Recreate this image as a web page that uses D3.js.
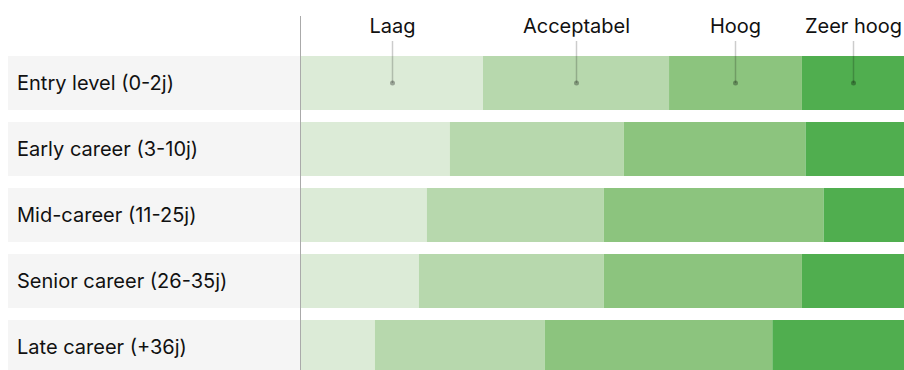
<!DOCTYPE html>
<html>
<head>
<meta charset="utf-8">
<script src="https://cdn.jsdelivr.net/npm/d3@7"></script>
<style>
  body { margin: 0; background: #fff; }
  svg { display: block; font-family: Inter, "Noto Sans", sans-serif; }
</style>
</head>
<body>
<div id="chart"></div>
<script>
// Data
const categories = [
  "Entry level (0-2j)",
  "Early career (3-10j)",
  "Mid-career (11-25j)",
  "Senior career (26-35j)",
  "Late career (+36j)",
];
const levels = ["Laag", "Acceptabel", "Hoog", "Zeer hoog"];
const laag = [30.3, 24.8, 21.0, 19.7, 12.4];
const acceptabel = [30.8, 28.8, 29.3, 30.6, 28.1];
const hoog = [22.0, 30.1, 36.4, 32.8, 37.7];
const zeerHoog = [16.9, 16.3, 13.3, 16.9, 21.8];

const colors = ["#dcebd7", "#b7d8ad", "#8cc47e", "#50ae4f"];

function draw() {
  const dimensions = {
    width: 904,
    height: 370,
    labelLeft: 8,
    plotLeft: 300,
    plotRight: 904,
    top: 56,
    step: 66,
    gap: 12,
  };

  const rows = categories.map((c, i) => ({
    category: c,
    Laag: laag[i],
    Acceptabel: acceptabel[i],
    Hoog: hoog[i],
    "Zeer hoog": zeerHoog[i],
  }));

  const series = d3.stack().keys(levels)(rows);

  const svg = d3
    .select("#chart")
    .append("svg")
    .attr("width", dimensions.width)
    .attr("height", dimensions.height);

  // Scales
  const xScale = d3
    .scaleLinear()
    .domain([0, 100])
    .range([dimensions.plotLeft, dimensions.plotRight]);

  const yScale = d3
    .scaleBand()
    .domain(categories)
    .range([
      dimensions.top,
      dimensions.top + dimensions.step * categories.length - dimensions.gap,
    ])
    .paddingInner(dimensions.gap / dimensions.step)
    .paddingOuter(0);

  const colorScale = d3.scaleOrdinal().domain(levels).range(colors);

  // Label bands
  svg
    .append("g")
    .selectAll("rect")
    .data(categories)
    .join("rect")
    .attr("x", dimensions.labelLeft)
    .attr("y", (d) => yScale(d))
    .attr("width", dimensions.plotLeft - dimensions.labelLeft)
    .attr("height", yScale.bandwidth())
    .attr("fill", "#f5f5f5");

  svg
    .append("g")
    .selectAll("text")
    .data(categories)
    .join("text")
    .attr("x", 17)
    .attr("y", (d) => yScale(d) + yScale.bandwidth() / 2)
    .attr("dy", "0.35em")
    .attr("font-size", 20)
    .attr("fill", "#111")
    .text((d) => d);

  // Bars
  svg
    .append("g")
    .selectAll("g")
    .data(series)
    .join("g")
    .attr("fill", (d) => colorScale(d.key))
    .selectAll("rect")
    .data((d) => d)
    .join("rect")
    .attr("x", (d) => xScale(d[0]))
    .attr("y", (d) => yScale(d.data.category))
    .attr("width", (d) => xScale(d[1]) - xScale(d[0]))
    .attr("height", yScale.bandwidth());

  // Axis line
  svg
    .append("line")
    .attr("x1", dimensions.plotLeft + 0.5)
    .attr("x2", dimensions.plotLeft + 0.5)
    .attr("y1", 16)
    .attr("y2", dimensions.height)
    .attr("stroke", "#aaa")
    .attr("stroke-width", 1);

  // Legend labels over first row
  const first = categories[0];
  const legend = svg
    .append("g")
    .selectAll("g")
    .data(series)
    .join("g")
    .attr("transform", (d) => {
      const cx = Math.round((xScale(d[0][0]) + xScale(d[0][1])) / 2) + 0.5;
      return `translate(${cx},0)`;
    });

  legend
    .append("line")
    .attr("y1", 41)
    .attr("y2", yScale(first) + yScale.bandwidth() / 2)
    .attr("stroke", "#000")
    .attr("stroke-opacity", 0.2)
    .attr("stroke-width", 1.5);

  legend
    .append("circle")
    .attr("cy", yScale(first) + yScale.bandwidth() / 2)
    .attr("r", 2.5)
    .attr("fill", "#000")
    .attr("fill-opacity", 0.3);

  legend
    .append("text")
    .attr("y", 33)
    .attr("text-anchor", "middle")
    .attr("font-size", 20)
    .attr("fill", "#111")
    .text((d) => d.key);
}

draw();
</script>
</body>
</html>
